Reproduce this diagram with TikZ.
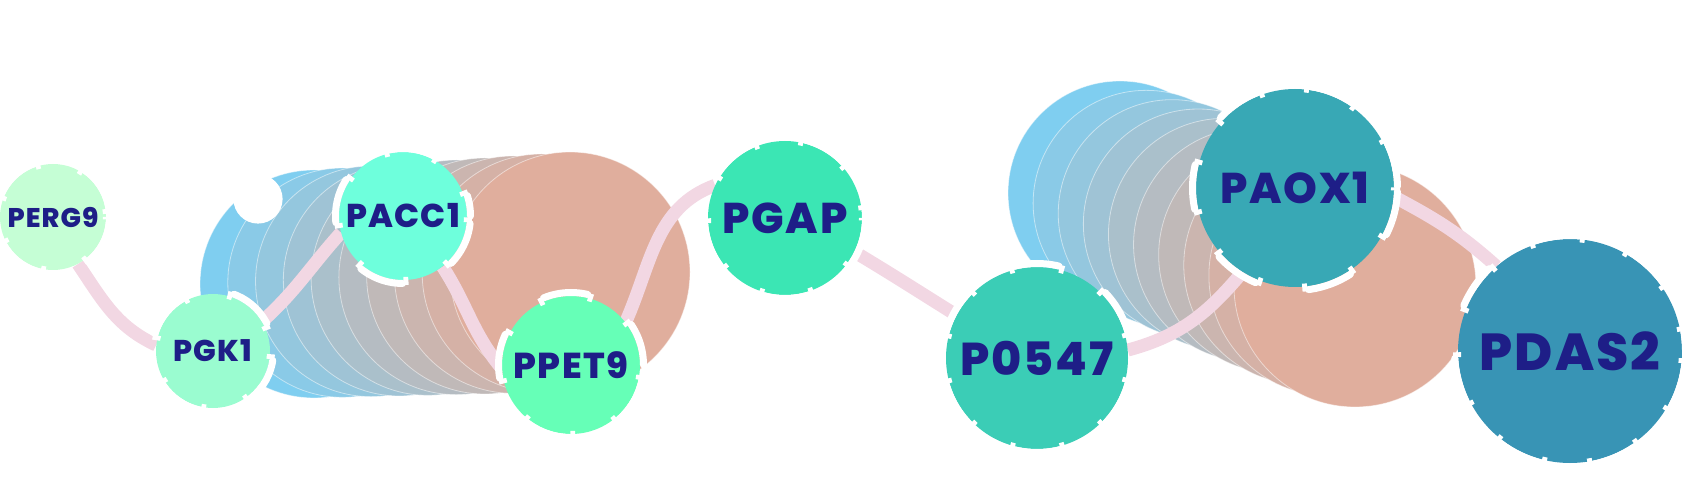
\documentclass[tikz,border=0pt]{standalone}
\usepackage{fontspec}
\newfontfamily\genefont{Poppins}[LetterSpace=4, BoldFont={Poppins ExtraBold}]
\usepackage{xcolor}
\definecolor{genetext}{RGB}{30,30,135}
\definecolor{linkpink}{RGB}{242,215,227}
\definecolor{blobblue}{RGB}{127,206,240}
\definecolor{blobsalmon}{RGB}{224,174,157}
\definecolor{cperg}{RGB}{197,254,213}
\definecolor{cpgk}{RGB}{154,252,208}
\definecolor{cpacc}{RGB}{110,255,220}
\definecolor{cppet}{RGB}{102,255,183}
\definecolor{cpgap}{RGB}{59,230,180}
\definecolor{cpo}{RGB}{59,205,182}
\definecolor{cpaox}{RGB}{56,168,181}
\definecolor{cpdas}{RGB}{56,148,181}
\usetikzlibrary{positioning}
\newcommand{\gsize}[1]{\genefont\bfseries\fontsize{#1pt}{#1pt}\selectfont}
\pgfdeclarelayer{blobs}
\pgfdeclarelayer{links}
\pgfsetlayers{blobs,links,main}
\tikzset{
  gene/.style={circle, inner sep=0pt, text=genetext},
  link/.style={draw=linkpink, line width=13pt},
  trailc/.style={draw=white, draw opacity=.5, line width=.8pt},
  ringdash/.style={draw=white, line width=7pt, line cap=round, dash pattern=on 45pt off 54pt},
  notch/.style={draw=white, line width=8pt},
}
\begin{document}
\begin{tikzpicture}[x=1pt,y=1pt]
\useasboundingbox (0,0) rectangle (1690,477);
\node[gene, fill=cperg, minimum size=106pt, font=\gsize{27}] (PERG9) at (53,260) {PERG9};
\node[gene, fill=cpgk, minimum size=114pt, font=\gsize{30}] (PGK1) at (213,126) {PGK1};
\node[gene, fill=cpacc, minimum size=128pt, font=\gsize{33}] (PACC1) at (403,261) {PACC1};
\node[gene, fill=cppet, minimum size=138pt, font=\gsize{36}] (PPET9) at (571,112) {PPET9};
\node[gene, fill=cpgap, minimum size=154pt, font=\gsize{43}] (PGAP) at (785,259) {PGAP};
\node[gene, fill=cpo, minimum size=182pt, font=\gsize{46}] (P0547) at (1037,119) {P0547};
\node[gene, fill=cpaox, minimum size=198pt, font=\gsize{43}] (PAOX1) at (1295,289) {PAOX1};
\node[gene, fill=cpdas, minimum size=224pt, font=\gsize{52}] (PDAS2) at (1570,126) {PDAS2};
% white rims (radius / shift of the dashes)
\foreach \n/\r/\s in {PERG9/53/0, PGK1/57/6, PACC1/64/4, PPET9/69/13, PGAP/77/0, P0547/91/23, PAOX1/99/0, PDAS2/112/10}{
  \pgfmathsetmacro\k{(\r+1)/(\r+3.5)}
  \pgfmathsetmacro\ka{52*\k-5}
  \pgfmathsetmacro\kb{47*\k-5}
  \pgfmathsetmacro\np{2.5+(99-\s)*\k}
  \pgfmathsetmacro\rp{95.5-\s}
  \draw[notch, dash pattern=on 5pt off \ka pt on 5pt off \kb pt, dash phase=\np pt] (\n.center) ++(\r+1,0) arc[start angle=0, end angle=-360, radius=\r+1];
  \draw[ringdash, dash phase=\rp pt] (\n.center) ++(\r+3.5,0) arc[start angle=0, end angle=-360, radius=\r+3.5];
}
\begin{pgfonlayer}{links}
\draw[link] (PERG9.-62) to[out=-56, in=155] (PGK1.174);
\draw[link] (PGK1.31) to[out=42, in=228] (PACC1.195);
\draw[link] (PACC1.-52) to[out=-57, in=130] (PPET9.183);
\draw[link] (PPET9.38) to[out=66, in=200] (PGAP.155);
\draw[link] (PGAP.-26) to[out=-31, in=148] (P0547.152);
\draw[link] (P0547.5) to[out=15, in=230] (PAOX1.238);
\draw[link] (PAOX1.-5) to[out=-28, in=138] (PDAS2.131);
\end{pgfonlayer}
\begin{pgfonlayer}{blobs}
\foreach \i in {0,...,9}{
  \pgfmathtruncatemacro\p{round(\i*100/9)}
  \colorlet{trail}{blobsalmon!\p!blobblue}
  \fill[trail, trailc] ({314+256*\i/9},{193+12*\i/9}) circle[radius={114+6*\i/9}];
  \fill[trail, trailc] ({1120+235*\i/9},{284-93*\i/9}) circle[radius={112+9*\i/9}];
}
\fill[white] (258,278) circle[radius=24.6];
\end{pgfonlayer}
\end{tikzpicture}
\end{document}
